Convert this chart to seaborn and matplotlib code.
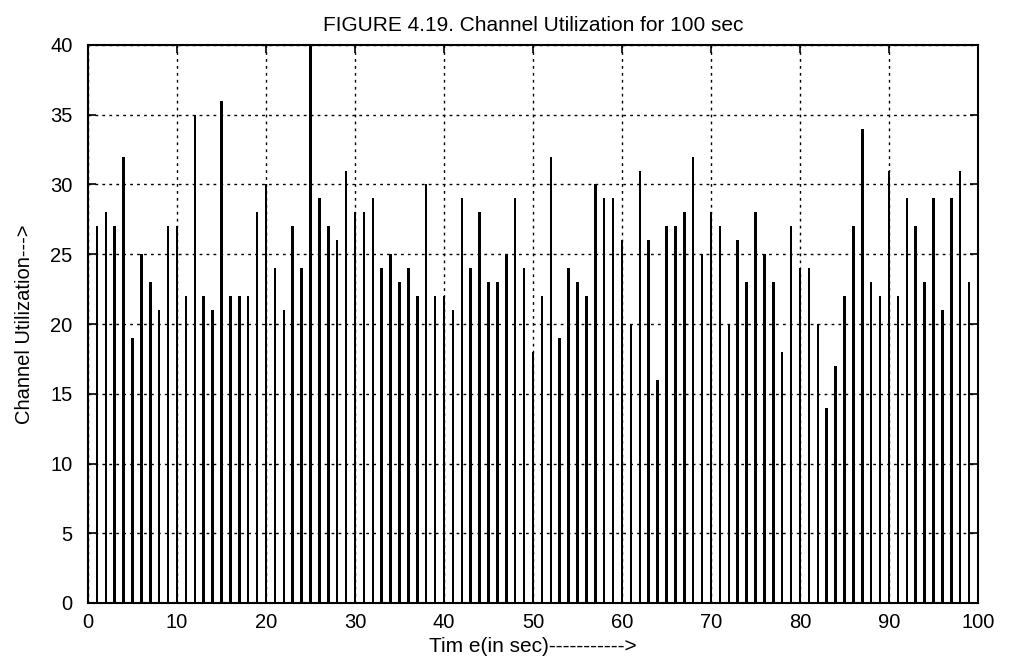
import matplotlib
matplotlib.use("Agg")
import matplotlib.pyplot as plt
import seaborn as sns
import pandas as pd

time_sec = list(range(1, 100))
utilization = [
    27, 28, 27, 32, 19, 25, 23, 21, 27, 27,   # 1-10
    22, 35, 22, 21, 36, 22, 22, 22, 28, 30,   # 11-20
    24, 21, 27, 24, 40, 29, 27, 26, 31, 28,   # 21-30
    28, 29, 24, 25, 23, 24, 22, 30, 22, 22,   # 31-40
    21, 29, 24, 28, 23, 23, 25, 29, 24, 18,   # 41-50
    22, 32, 19, 24, 23, 22, 30, 29, 29, 26,   # 51-60
    20, 31, 26, 16, 27, 27, 28, 32, 25, 28,   # 61-70
    27, 20, 26, 23, 28, 25, 23, 18, 27, 24,   # 71-80
    24, 20, 14, 17, 22, 27, 34, 23, 22, 31,   # 81-90
    22, 29, 27, 23, 29, 21, 29, 31, 23,       # 91-99
]
x_ticks = list(range(0, 101, 10))
y_ticks = list(range(0, 41, 5))

title = "FIGURE 4.19. Channel Utilization for 100 sec"
x_label = "Tim e(in sec)----------->"
y_label = "Channel Utilization--->"

df = pd.DataFrame({"t": time_sec, "u": utilization})

sns.set_style("white")
plt.rcParams["font.family"] = ["Liberation Sans", "DejaVu Sans"]
plt.rcParams["text.color"] = "black"
plt.rcParams["axes.labelcolor"] = "black"

fig = plt.figure(figsize=(10.09, 6.63), dpi=100)
ax = fig.add_axes([88 / 1009, 1 - 603 / 663, (978 - 88) / 1009, (603 - 45) / 663])

sns.barplot(data=df, x="t", y="u", native_scale=True, width=0.27,
            color="black", saturation=1, errorbar=None, ax=ax,
            linewidth=0)
for p in ax.patches:
    p.set_antialiased(False)

ax.set_xlim(0, 100)
ax.set_ylim(0, 40)
ax.set_xticks(x_ticks)
ax.set_yticks(y_ticks)
ax.set_xticklabels([str(v) for v in x_ticks])
ax.set_yticklabels([str(v) for v in y_ticks])

ax.grid(True, linestyle=(0, (2, 3)), color="black", linewidth=1.0)
ax.set_axisbelow(True)
for s in ax.spines.values():
    s.set_visible(True)
    s.set_color("black")
    s.set_linewidth(1.5)

ax.tick_params(axis="both", which="both", direction="in", length=6, width=1.2,
               top=True, right=True, bottom=True, left=True,
               labelsize=14.5, colors="black")
ax.tick_params(axis="x", pad=7)
ax.tick_params(axis="y", pad=11)

ax.set_title(title, fontsize=15, pad=10, color="black")
ax.set_xlabel(x_label, fontsize=15, labelpad=4, color="black")
ax.set_ylabel(y_label, fontsize=14.5, labelpad=12, color="black")

fig.savefig("out.png", dpi=100, facecolor="white")
